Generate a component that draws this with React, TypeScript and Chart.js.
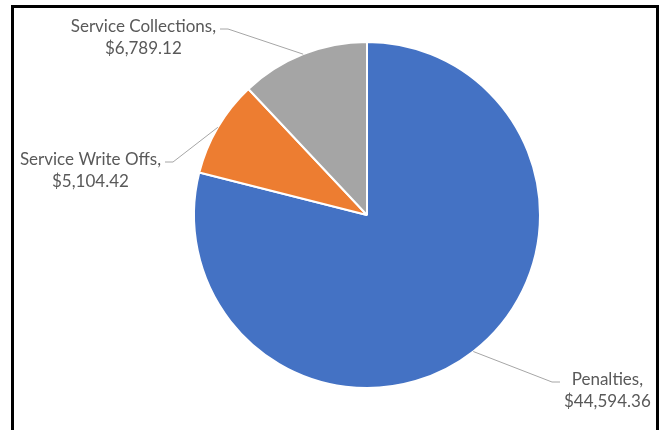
import React, { useEffect, useRef } from "react";
import { Chart, registerables } from "chart.js";

Chart.register(...registerables);

const categories = ["Penalties", "Service Write Offs", "Service Collections"];
const values = [44594.36, 5104.42, 6789.12];
const colors = ["#4472C4", "#ED7D31", "#A5A5A5"];

// label elbow positions relative to the pie centre (layout only)
const labelLayout = [
  { dx: 185, dy: 167, side: "right" },
  { dx: -194, dy: -53, side: "left" },
  { dx: -139, dy: -186, side: "left" },
];

const fmt = (v: number) =>
  "$" + v.toLocaleString("en-US", { minimumFractionDigits: 2, maximumFractionDigits: 2 });

const labelPlugin = {
  id: "excelLabels",
  afterDatasetsDraw(chart: any) {
    const ctx = chart.ctx;
    const meta = chart.getDatasetMeta(0);
    ctx.save();
    ctx.font = "17px Lato, 'Liberation Sans', sans-serif";
    meta.data.forEach((arc: any, i: number) => {
      const { x, y, startAngle, endAngle, outerRadius } = arc.getProps(
        ["x", "y", "startAngle", "endAngle", "outerRadius"],
        true
      );
      const mid = (startAngle + endAngle) / 2;
      const ax = x + Math.cos(mid) * outerRadius;
      const ay = y + Math.sin(mid) * outerRadius;
      const L = labelLayout[i];
      const ex = x + L.dx;
      const ey = y + L.dy;
      const dir = L.side === "right" ? 1 : -1;
      const hx = ex + dir * 8;
      ctx.strokeStyle = "#A6A6A6";
      ctx.lineWidth = 1;
      ctx.beginPath();
      ctx.moveTo(ax, ay);
      ctx.lineTo(ex, ey);
      ctx.lineTo(hx, ey);
      ctx.stroke();
      const l1 = categories[i] + ",";
      const l2 = fmt(values[i]);
      const w = Math.max(ctx.measureText(l1).width, ctx.measureText(l2).width);
      const edge = hx + dir * 4;
      const cx = dir === 1 ? edge + w / 2 : edge - w / 2;
      ctx.fillStyle = "#595959";
      ctx.textAlign = "center";
      ctx.textBaseline = "alphabetic";
      ctx.fillText(l1, cx, ey + 3);
      ctx.fillText(l2, cx, ey + 25);
    });
    ctx.restore();
  },
};

export default function App() {
  const ref = useRef<HTMLCanvasElement | null>(null);
  useEffect(() => {
    if (!ref.current) return;
    const chart = new Chart(ref.current, {
      type: "pie",
      data: {
        labels: categories,
        datasets: [
          {
            data: values,
            backgroundColor: colors,
            borderColor: "#ffffff",
            borderWidth: 2,
          },
        ],
      },
      options: {
        responsive: false,
        animation: false,
        layout: { padding: { left: 193, right: 124, top: 41, bottom: 41 } },
        plugins: {
          legend: { display: false },
          tooltip: { enabled: false },
        },
      },
      plugins: [labelPlugin],
    });
    return () => chart.destroy();
  }, []);
  return (
    <div
      style={{
        position: "fixed",
        left: 0,
        top: 0,
        width: 665,
        height: 430,
        background: "#fff",
        overflow: "hidden",
      }}
    >
      <canvas ref={ref} width={665} height={430} style={{ position: "absolute", left: 0, top: 0 }} />
      <div
        style={{
          position: "absolute",
          left: 11,
          top: 5,
          width: 648,
          height: 500,
          boxSizing: "border-box",
          border: "3px solid #000",
          pointerEvents: "none",
        }}
      />
    </div>
  );
}
